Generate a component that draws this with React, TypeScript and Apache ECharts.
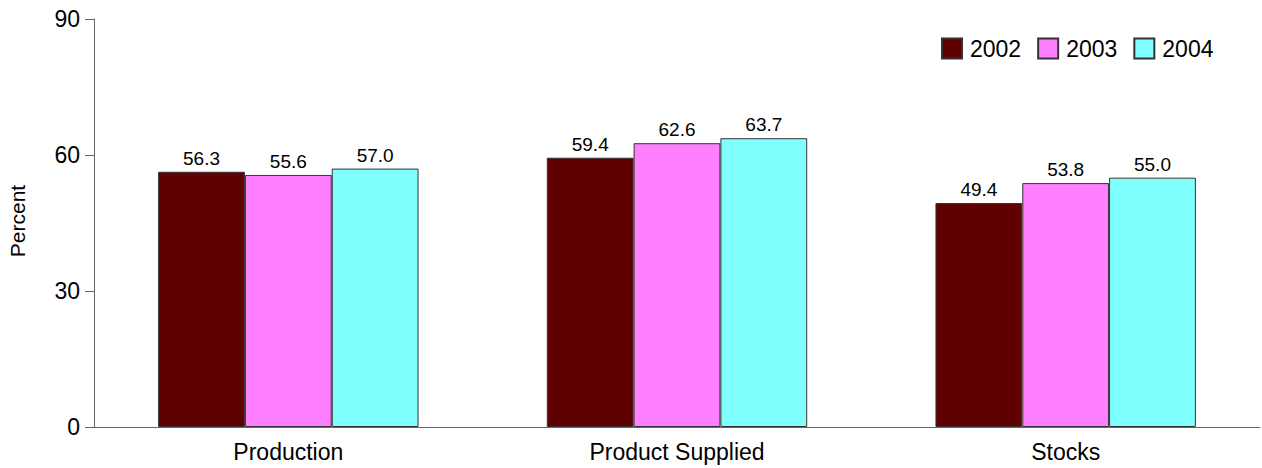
import React, { useEffect, useRef } from "react";
import * as echarts from "echarts";

const categories = ["Production", "Product Supplied", "Stocks"];
const seriesNames = ["2002", "2003", "2004"];
const values2002 = [56.3, 59.4, 49.4];
const values2003 = [55.6, 62.6, 53.8];
const values2004 = [57.0, 63.7, 55.0];
const colors = ["#600000", "#FF80FF", "#80FFFF"];
const yTicks = { min: 0, max: 90, interval: 30 };

export default function App() {
  const ref = useRef<HTMLDivElement>(null);
  useEffect(() => {
    if (!ref.current) return;
    const chart = echarts.init(ref.current, null, { renderer: "svg" });
    const font = "Liberation Sans, Arial, sans-serif";
    const data = [values2002, values2003, values2004];
    chart.setOption({
      animation: false,
      textStyle: { fontFamily: font },
      grid: { left: 94, right: 2, top: 19, bottom: 41, containLabel: false },
      legend: {
        left: 936,
        top: 32,
        itemWidth: 20,
        itemHeight: 20,
        itemGap: 16,
        icon: "rect",
        textStyle: { fontSize: 23, color: "#000", fontFamily: font, padding: [0, 0, 0, 3] },
        data: seriesNames,
      },
      xAxis: {
        type: "category",
        data: categories,
        axisLine: { show: true, lineStyle: { color: "#666", width: 1 } },
        axisTick: { show: false },
        axisLabel: { fontSize: 23, color: "#000", margin: 13, fontFamily: font },
      },
      yAxis: {
        type: "value",
        min: yTicks.min,
        max: yTicks.max,
        interval: yTicks.interval,
        axisLine: { show: true, lineStyle: { color: "#666", width: 1 } },
        axisTick: { show: true, length: 9, lineStyle: { color: "#666" } },
        splitLine: { show: false },
        axisLabel: { fontSize: 23, color: "#000", margin: 14, fontFamily: font },
      },
      graphic: [
        {
          type: "text",
          x: 17,
          y: 221,
          rotation: Math.PI / 2,
          style: {
            text: "Percent",
            fontSize: 21,
            fill: "#000",
            fontFamily: font,
            align: "center",
            verticalAlign: "middle",
          },
        },
      ],
      series: seriesNames.map((name, i) => ({
        name,
        type: "bar",
        data: data[i],
        barGap: "0%",
        barCategoryGap: "33%",
        itemStyle: { color: colors[i], borderColor: "#333", borderWidth: 1 },
        label: {
          show: true,
          position: "top",
          distance: 4,
          fontSize: 19,
          color: "#000",
          fontFamily: font,
          formatter: (p: any) => Number(p.value).toFixed(1),
        },
      })),
    });
    return () => chart.dispose();
  }, []);
  return (
    <div
      ref={ref}
      style={{ position: "absolute", left: 0, top: 0, width: 1262, height: 468, background: "#fff" }}
    />
  );
}
